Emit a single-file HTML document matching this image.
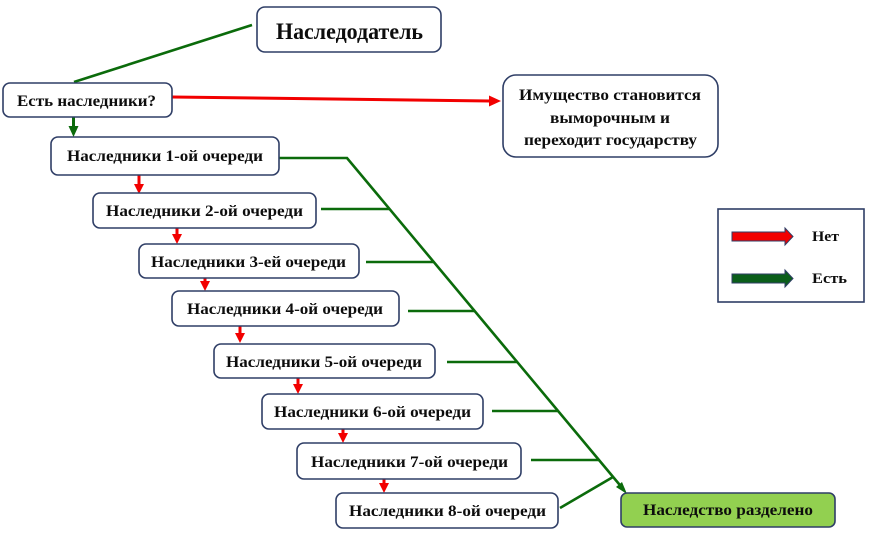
<!DOCTYPE html>
<html>
<head>
<meta charset="utf-8">
<style>
html,body{margin:0;padding:0;background:#fff;}
svg{display:block;}
text{font-family:"Liberation Serif","Noto Serif CJK SC",serif;font-weight:bold;fill:#0d0d0d;}
</style>
</head>
<body>
<svg width="869" height="533" viewBox="0 0 869 533" xmlns="http://www.w3.org/2000/svg">

<!-- connector from Наследодатель -->
<line x1="252" y1="25" x2="74" y2="82" stroke="#0B6B0B" stroke-width="2.6"/>

<!-- red arrow to Имущество -->
<line x1="172" y1="97" x2="490" y2="101" stroke="#F20000" stroke-width="3"/>
<polygon points="489,95.5 501,101 489,106.5" fill="#F20000"/>

<!-- green down arrow -->
<line x1="73.5" y1="117" x2="73.5" y2="127" stroke="#0B6B0B" stroke-width="3"/>
<polygon points="68.5,126 78.5,126 73.5,137" fill="#0B6B0B"/>

<!-- red down arrows -->
<g fill="#F20000">
<rect x="137.5" y="175" width="3" height="10"/><polygon points="134,184 144,184 139,194"/>
<rect x="175.5" y="228" width="3" height="7"/><polygon points="172,234 182,234 177,244"/>
<rect x="203.5" y="278" width="3" height="4"/><polygon points="200,281 210,281 205,291"/>
<rect x="238.5" y="326" width="3" height="8"/><polygon points="235,333 245,333 240,343"/>
<rect x="296.5" y="378" width="3" height="7"/><polygon points="293,384 303,384 298,394"/>
<rect x="341.5" y="429" width="3" height="5"/><polygon points="338,433 348,433 343,443"/>
<rect x="382.5" y="479" width="3" height="5"/><polygon points="379,483 389,483 384,493"/>
</g>

<!-- green trunk -->
<g stroke="#0B6B0B" stroke-width="2.6" fill="none">
<polyline points="279,158 347,158 624,490"/>
<line x1="321" y1="209" x2="389" y2="209"/>
<line x1="366" y1="262" x2="433" y2="262"/>
<line x1="408" y1="311" x2="474" y2="311"/>
<line x1="447" y1="362" x2="517" y2="362"/>
<line x1="492" y1="411" x2="558" y2="411"/>
<line x1="531" y1="460" x2="599" y2="460"/>
<line x1="560" y1="508" x2="613" y2="477"/>
</g>
<polygon points="627,494 616,487 622,482" fill="#0B6B0B"/>

<!-- boxes -->
<g fill="#fff" stroke="#2F3E66" stroke-width="1.6">
<rect x="257" y="7" width="184" height="45" rx="8"/>
<rect x="3" y="83" width="169" height="34" rx="7"/>
<rect x="503" y="75" width="215" height="82" rx="13"/>
<rect x="51" y="137" width="228" height="38" rx="7"/>
<rect x="93" y="193" width="223" height="35" rx="7"/>
<rect x="139" y="244" width="220" height="34" rx="7"/>
<rect x="172" y="291" width="227" height="35" rx="7"/>
<rect x="214" y="344" width="221" height="34" rx="7"/>
<rect x="262" y="394" width="221" height="35" rx="7"/>
<rect x="297" y="443" width="224" height="36" rx="7"/>
<rect x="336" y="493" width="222" height="35" rx="7"/>
<rect x="621" y="493" width="214" height="34" rx="6" fill="#92D050"/>
<rect x="718" y="209" width="146" height="93" rx="0"/>
</g>

<!-- legend arrows -->
<polygon points="732,232 785,232 785,228 793,236.5 785,245 785,241 732,241" fill="#F20000" stroke="#2F3E66" stroke-width="1"/>
<polygon points="732,274 785,274 785,270 793,278.5 785,287 785,283 732,283" fill="#0B5E1A" stroke="#2F3E66" stroke-width="1"/>

<!-- texts -->
<g font-size="16">
<text x="276" y="39" font-size="23" textLength="147" lengthAdjust="spacingAndGlyphs">Наследодатель</text>
<text x="17" y="106" textLength="139" lengthAdjust="spacingAndGlyphs">Есть наследники?</text>
<text x="519" y="100" textLength="182" lengthAdjust="spacingAndGlyphs">Имущество становится</text>
<text x="550" y="123" textLength="120" lengthAdjust="spacingAndGlyphs">выморочным и</text>
<text x="524" y="145" textLength="173" lengthAdjust="spacingAndGlyphs">переходит государству</text>
<text x="67" y="161" textLength="196" lengthAdjust="spacingAndGlyphs">Наследники 1-ой очереди</text>
<text x="106" y="216" textLength="197" lengthAdjust="spacingAndGlyphs">Наследники 2-ой очереди</text>
<text x="151" y="267" textLength="195" lengthAdjust="spacingAndGlyphs">Наследники 3-ей очереди</text>
<text x="187" y="314" textLength="196" lengthAdjust="spacingAndGlyphs">Наследники 4-ой очереди</text>
<text x="226" y="367" textLength="196" lengthAdjust="spacingAndGlyphs">Наследники 5-ой очереди</text>
<text x="274" y="417" textLength="197" lengthAdjust="spacingAndGlyphs">Наследники 6-ой очереди</text>
<text x="311" y="467" textLength="197" lengthAdjust="spacingAndGlyphs">Наследники 7-ой очереди</text>
<text x="349" y="516" textLength="197" lengthAdjust="spacingAndGlyphs">Наследники 8-ой очереди</text>
<text x="643" y="515" textLength="170" lengthAdjust="spacingAndGlyphs">Наследство разделено</text>
<text x="812" y="241" font-size="15" textLength="27" lengthAdjust="spacingAndGlyphs">Нет</text>
<text x="812" y="283" font-size="15" textLength="35" lengthAdjust="spacingAndGlyphs">Есть</text>
</g>
</svg>
</body>
</html>
